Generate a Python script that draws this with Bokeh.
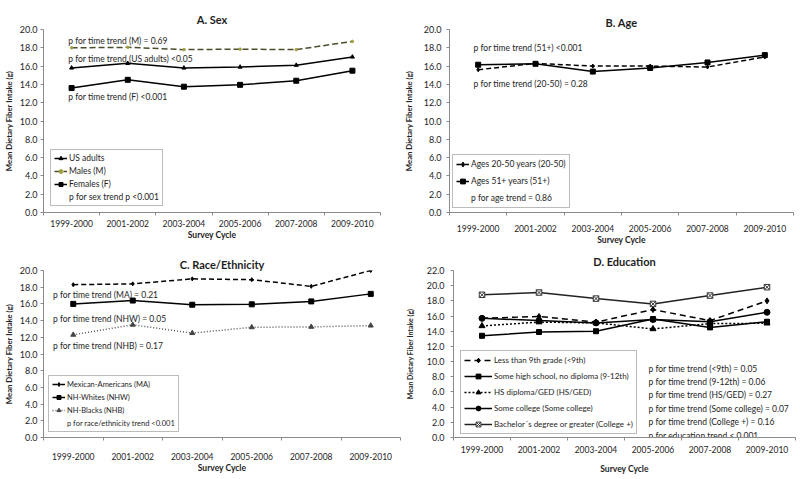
from bokeh.plotting import figure
from bokeh.layouts import column, row
from bokeh.models import Range1d, FixedTicker, NumeralTickFormatter, Legend, LegendItem
from bokeh.embed import file_html
from bokeh.resources import INLINE
from bokeh.core.properties import value

FONT = "Lato"

cycles = ["1999-2000", "2001-2002", "2003-2004", "2005-2006", "2007-2008", "2009-2010"]

# A. Sex
sex_us_adults = [15.8, 16.3, 15.8, 15.9, 16.1, 17.0]
sex_males = [18.0, 18.05, 17.8, 17.85, 17.8, 18.7]
sex_females = [13.6, 14.5, 13.75, 13.95, 14.4, 15.5]
sex_notes = ["p  for time trend  (M) = 0.69", "p  for time trend (US adults)  <0.05", "p  for time trend (F)  <0.001"]
sex_note_y = [18.75, 16.75, 12.6]

# B. Age
age_20_50 = [15.6, 16.3, 16.0, 16.0, 15.9, 17.0]
age_51_plus = [16.15, 16.25, 15.4, 15.8, 16.4, 17.2]
age_notes = ["p  for time trend (51+) <0.001", "p  for time trend (20-50) = 0.28"]
age_note_y = [18.0, 14.0]

# C. Race/Ethnicity
race_ma = [18.3, 18.4, 19.0, 18.9, 18.1, 20.0]
race_nhw = [16.0, 16.4, 15.9, 15.95, 16.3, 17.2]
race_nhb = [12.3, 13.5, 12.5, 13.2, 13.25, 13.4]
race_notes = ["p for time trend (MA)  = 0.21", "p for time trend (NHW)  = 0.05", "p for time trend (NHB) = 0.17"]
race_note_y = [17.1, 14.2, 10.9]

# D. Education
edu_lt9 = [15.7, 15.95, 15.2, 16.85, 15.4, 18.0]
edu_9_12 = [13.4, 13.9, 14.0, 15.6, 14.5, 15.25]
edu_hs = [14.7, 15.2, 15.1, 14.3, 15.0, 15.05]
edu_somecol = [15.7, 15.4, 15.1, 15.55, 15.25, 16.5]
edu_colplus = [18.8, 19.1, 18.3, 17.6, 18.7, 19.8]
edu_notes = ["p for time trend (<9th) = 0.05", "p for time trend (9-12th) = 0.06",
             "p for time trend (HS/GED) = 0.27", "p for time trend (Some college) = 0.07",
             "p for time trend (College +) = 0.16", "p for education trend < 0.001"]
edu_note_y = [9.0, 7.3, 5.55, 3.8, 2.05, 0.25]

xs = [i + 0.5 for i in range(len(cycles))]
TXT = "#1e1e1e"
AX = "#8a8a8a"


def make_fig(title, w, h, ymax, bl, br, bt, bb, t_standoff, xl_standoff, xa_standoff,
             ylab_size="7.75px", yl_standoff=3, ya_standoff=3):
    p = figure(width=w, height=h, x_range=Range1d(0, len(cycles)), y_range=Range1d(0, ymax),
               output_backend="svg", toolbar_location=None,
               min_border_left=bl, min_border_right=br, min_border_top=bt, min_border_bottom=bb)
    p.title.text = title
    p.title.align = "center"
    p.title.text_font = FONT
    p.title.text_font_size = "11px"
    p.title.text_font_style = "bold"
    p.title.text_color = TXT
    p.title.standoff = t_standoff
    p.outline_line_color = None
    p.xgrid.visible = False
    p.ygrid.visible = False
    p.background_fill_color = "white"
    p.border_fill_color = "white"

    xa = p.xaxis[0]
    xa.ticker = FixedTicker(ticks=xs, minor_ticks=list(range(len(cycles) + 1)))
    xa.major_label_overrides = {x: c for x, c in zip(xs, cycles)}
    xa.major_tick_line_color = None
    xa.major_tick_out = 0
    xa.major_tick_in = 0
    xa.minor_tick_out = 3
    xa.minor_tick_in = 0
    xa.minor_tick_line_color = AX
    xa.axis_line_color = AX
    xa.major_label_text_font = FONT
    xa.major_label_text_font_size = "8.5px"
    xa.major_label_text_color = TXT
    xa.major_label_standoff = xl_standoff
    xa.axis_label = "Survey Cycle"
    xa.axis_label_text_font = FONT
    xa.axis_label_text_font_size = "8.5px"
    xa.axis_label_text_font_style = "bold"
    xa.axis_label_text_color = TXT
    xa.axis_label_standoff = xa_standoff

    ya = p.yaxis[0]
    ya.ticker = FixedTicker(ticks=list(range(0, ymax + 1, 2)))
    ya.formatter = NumeralTickFormatter(format="0.0")
    ya.minor_tick_line_color = None
    ya.major_tick_out = 3
    ya.major_tick_in = 0
    ya.major_tick_line_color = AX
    ya.axis_line_color = AX
    ya.major_label_text_font = FONT
    ya.major_label_text_font_size = "9px"
    ya.major_label_text_color = TXT
    ya.major_label_standoff = ya_standoff
    ya.axis_label = "Mean Dietary Fiber Intake (g)"
    ya.axis_label_text_font = FONT
    ya.axis_label_text_font_size = ylab_size
    ya.axis_label_text_font_style = "bold"
    ya.axis_label_text_color = TXT
    ya.axis_label_standoff = yl_standoff
    return p


def series(p, ys, color="black", dash="solid", width=1.5, marker="square", size=5, mcolor=None, mfill=None):
    mcolor = mcolor or color
    l = p.line(xs, ys, line_color=color, line_dash=dash, line_width=width)
    s = p.scatter(xs, ys, marker=marker, size=size, line_color=mcolor,
                  fill_color=mfill if mfill is not None else mcolor)
    return [l, s]


def notes(p, x, ys, texts, size="8.5px"):
    p.text(x=[x] * len(ys), y=ys, text=texts, text_font=value(FONT), text_font_size=size,
           text_color=TXT, text_baseline="middle", text_align="left")


def add_legend(p, items, loc, glyph_w, label_h, spacing, padding, fsize="8.5px"):
    dummy = p.line(x=[], y=[], line_alpha=0)
    leg_items = []
    for label, rends in items:
        leg_items.append(LegendItem(label=label, renderers=rends if rends else [dummy]))
    lg = Legend(items=leg_items, location=loc, margin=0, padding=padding, spacing=spacing,
                glyph_width=glyph_w, glyph_height=label_h, label_height=label_h,
                label_standoff=2, label_text_font=FONT, label_text_font_size=fsize,
                label_text_color=TXT, border_line_color="#7a7a7a", border_line_width=1,
                background_fill_color="white", background_fill_alpha=1)
    p.add_layout(lg)


# Panel A
pA = make_fig("A. Sex", 400, 247, 20, 43, 20, 29, 32, 7, 4, 0)
rA_us = series(pA, sex_us_adults, marker="triangle", size=4)
rA_m = series(pA, sex_males, color="#4d4d2e", dash="6 3", marker="circle", size=2.5, mcolor="#a0a040")
rA_f = series(pA, sex_females, marker="square", size=5)
notes(pA, 0.44, sex_note_y, sex_notes)
add_legend(pA, [("US adults", rA_us), ("Males (M)", rA_m), ("Females (F)", rA_f),
                ("p for sex trend p <0.001", None)], (7, 6), 13, 10, 3, 3)

# Panel B
pB = make_fig("B. Age", 400, 247, 20, 38, 7, 14, 35, 2, 9, 0, yl_standoff=7, ya_standoff=5)
rB_1 = series(pB, age_20_50, dash="5 3", marker="diamond", size=4)
rB_2 = series(pB, age_51_plus, marker="square", size=5)
notes(pB, 0.42, age_note_y, age_notes)
add_legend(pB, [("Ages 20-50 years (20-50)", rB_1), ("Ages 51+ years (51+)", rB_2),
                ("p for age trend = 0.86", None)], (3, 4), 13, 12, 5, 3)

# Panel C
pC = make_fig("C. Race/Ethnicity", 402, 232, 20, 43, 2, 17, 42, 0, 12, 0)
rC_ma = series(pC, race_ma, dash="5 3", marker="diamond", size=4)
rC_w = series(pC, race_nhw, marker="square", size=5)
rC_b = series(pC, race_nhb, color="#555555", dash="1 2", marker="triangle", size=5, mcolor="#444444")
notes(pC, 0.16, race_note_y, race_notes)
add_legend(pC, [("Mexican-Americans (MA)", rC_ma), ("NH-Whites (NHW)", rC_w),
                ("NH-Blacks (NHB)", rC_b), ("p for race/ethnicity trend <0.001", None)],
           (5, 5), 13, 10, 3, 3, fsize="7.5px")

# Panel D
pD = make_fig("D. Education", 398, 232, 22, 46, 5, 23, 42, 6, 5, 8, ylab_size="7px",
              yl_standoff=10, ya_standoff=6)
rD_1 = series(pD, edu_lt9, dash="6 4", marker="diamond", size=6)
rD_2 = series(pD, edu_9_12, marker="square", size=5)
rD_3 = series(pD, edu_hs, dash="2 2", marker="triangle", size=6)
rD_4 = series(pD, edu_somecol, marker="circle", size=6)
rD_5 = series(pD, edu_colplus, color="#222222", marker="square_x", size=5.5, mcolor="#333333", mfill="white")
notes(pD, 3.42, edu_note_y, edu_notes)
add_legend(pD, [("Less than 9th grade (<9th)", rD_1), ("Some high school, no diploma (9-12th)", rD_2),
                ("HS diploma/GED (HS/GED)", rD_3), ("Some college (Some college)", rD_4),
                ("Bachelor\u00b4s degree or greater (College +)", rD_5)], (7, 3), 28, 12, 4, 3,
           fsize="8px")

layout = column(row(pA, pB), row(pC, pD))
open("out.html", "w").write(file_html(layout, INLINE))
